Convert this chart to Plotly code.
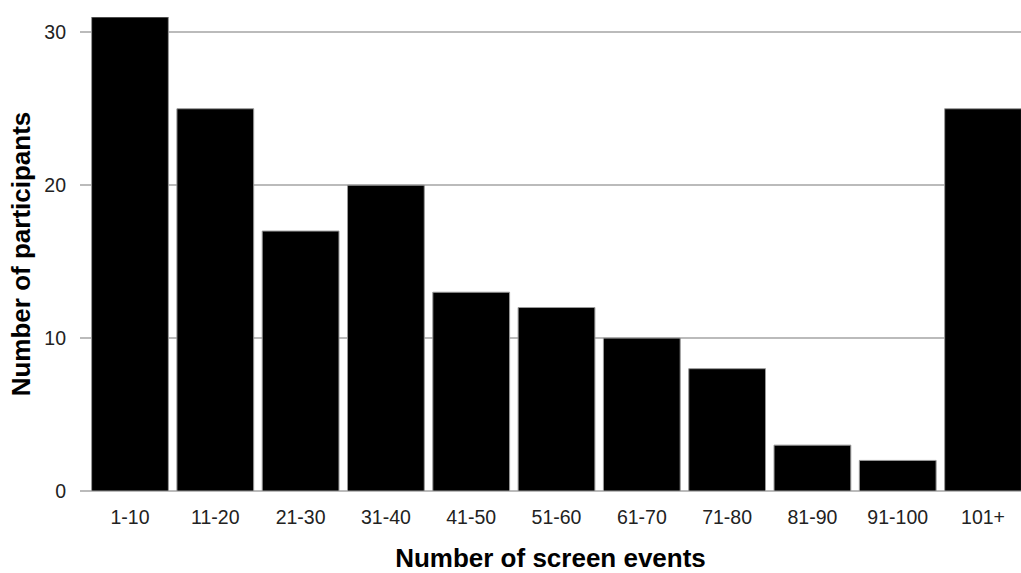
import plotly.graph_objects as go

categories = ["1-10", "11-20", "21-30", "31-40", "41-50", "51-60", "61-70",
              "71-80", "81-90", "91-100", "101+"]
participants = [31, 25, 17, 20, 13, 12, 10, 8, 3, 2, 25]

fig = go.Figure(go.Bar(
    x=list(range(len(categories))), y=participants,
    marker=dict(color="black", line=dict(color="#999999", width=1)),
))

font = "Liberation Sans, Arial, sans-serif"
fig.update_layout(
    width=1021, height=573,
    margin=dict(l=80, r=0, t=17, b=82),
    plot_bgcolor="white", paper_bgcolor="white",
    bargap=0.1,
    showlegend=False,
    font=dict(family=font, color="#222222"),
)
fig.update_xaxes(
    tickmode="array", tickvals=list(range(len(categories))), ticktext=categories,
    range=[-0.586, 10.445],
    showgrid=False, zeroline=False, showline=False,
    ticks="", ticklen=0, ticklabelstandoff=12,
    tickfont=dict(size=19.5, color="#222222"),
    title=dict(text="<b>Number of screen events</b>", font=dict(size=26, color="black"), standoff=26),
)
fig.update_yaxes(
    range=[0, 31], tickvals=[0, 10, 20, 30],
    showgrid=True, gridcolor="#bbbbbb", gridwidth=2,
    zeroline=True, zerolinecolor="#bbbbbb", zerolinewidth=2,
    showline=False, ticks="", ticklabelstandoff=13,
    tickfont=dict(size=19.5, color="#222222"),
    title=dict(text="<b>Number of participants</b>", font=dict(size=26, color="black"), standoff=6),
)

fig.write_html("out.html", config={"displayModeBar": False},
               post_script="document.body.style.margin='0';")
